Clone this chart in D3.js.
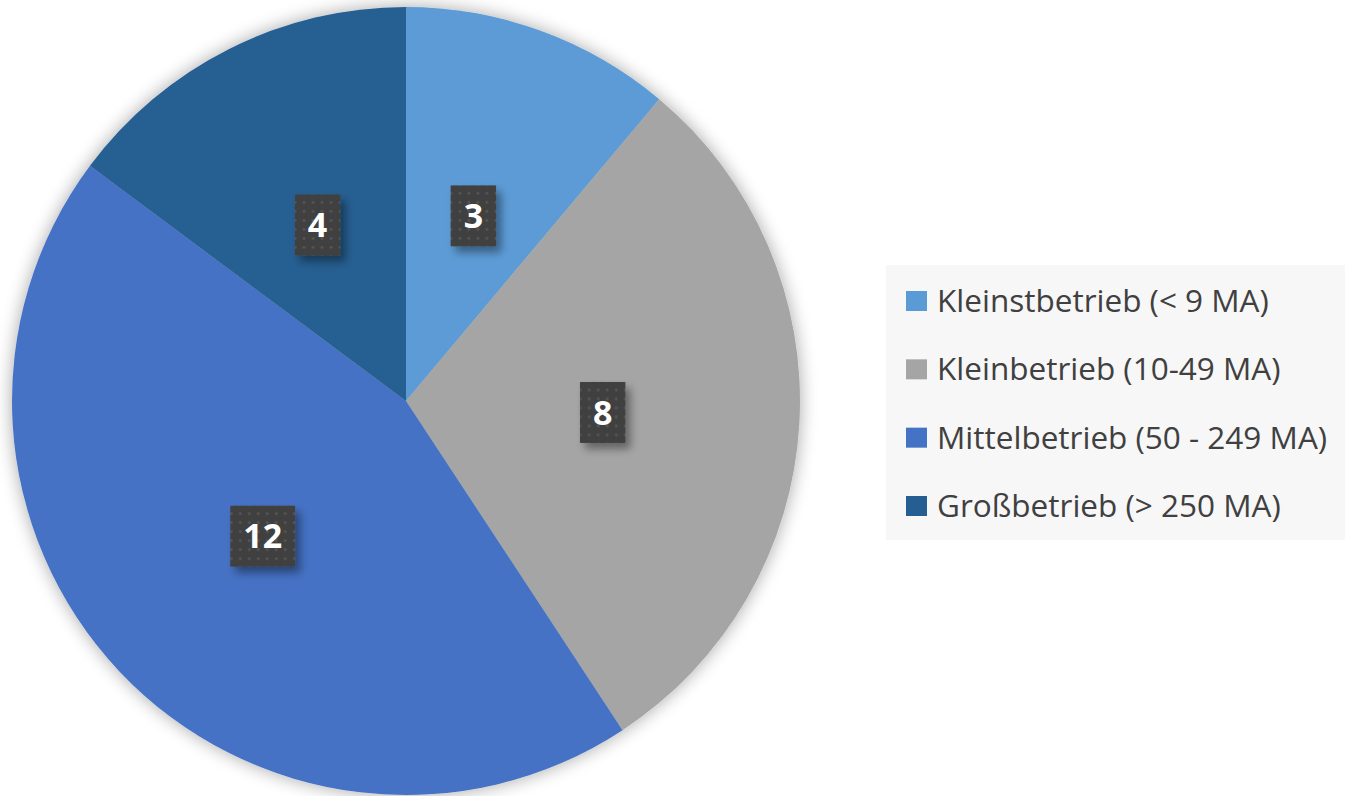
<!DOCTYPE html>
<html><head><meta charset="utf-8">
<script src="https://cdn.jsdelivr.net/npm/d3@7"></script>
<style>body{margin:0;background:#fff;}svg{display:block;}</style>
</head><body>
<svg id="chart" width="1345" height="796"></svg>
<script>
const categories = ["Kleinstbetrieb (< 9 MA)", "Kleinbetrieb (10-49 MA)", "Mittelbetrieb (50 - 249 MA)", "Großbetrieb (> 250 MA)"];
const values = [3, 8, 12, 4];
const colors = ["#5B9BD5", "#A5A5A5", "#4472C4", "#255E91"];

const svg = d3.select("#chart");
const W = 1345, H = 796;
const cx = 406, cy = 401, R = 394;

const defs = svg.append("defs");
const f = defs.append("filter").attr("id","pieShadow").attr("x","-20%").attr("y","-20%").attr("width","140%").attr("height","140%");
f.append("feGaussianBlur").attr("in","SourceAlpha").attr("stdDeviation",9).attr("result","b");
f.append("feOffset").attr("in","b").attr("dx",0).attr("dy",0).attr("result","o");
f.append("feComponentTransfer").attr("in","o").attr("result","s").append("feFuncA").attr("type","linear").attr("slope",0.35);
const m = f.append("feMerge"); m.append("feMergeNode").attr("in","s"); m.append("feMergeNode").attr("in","SourceGraphic");

const f2 = defs.append("filter").attr("id","boxShadow").attr("x","-40%").attr("y","-40%").attr("width","190%").attr("height","190%");
f2.append("feGaussianBlur").attr("in","SourceAlpha").attr("stdDeviation",4).attr("result","b");
f2.append("feOffset").attr("in","b").attr("dx",5).attr("dy",6).attr("result","o");
f2.append("feComponentTransfer").attr("in","o").attr("result","s").append("feFuncA").attr("type","linear").attr("slope",0.4);
const m2 = f2.append("feMerge"); m2.append("feMergeNode").attr("in","s"); m2.append("feMergeNode").attr("in","SourceGraphic");

const pat = defs.append("pattern").attr("id","dots").attr("patternUnits","userSpaceOnUse").attr("width",9).attr("height",9);
pat.append("rect").attr("width",9).attr("height",9).attr("fill","#404040");
pat.append("circle").attr("cx",4.5).attr("cy",4.5).attr("r",1.4).attr("fill","#555555");

const pie = d3.pie().sort(null).value(d => d);
const arcs = pie(values);
const arc = d3.arc().innerRadius(0).outerRadius(R);
const labelArc = d3.arc().innerRadius(R*0.5).outerRadius(R*0.5);

const g = svg.append("g").attr("transform",`translate(${cx},${cy})`);
g.append("g").attr("filter","url(#pieShadow)")
  .selectAll("path").data(arcs).join("path")
  .attr("d", arc).attr("fill",(d,i)=>colors[i]);

const lg = g.append("g");
arcs.forEach((d,i) => {
  const [x,y] = labelArc.centroid(d);
  const grp = lg.append("g").attr("transform",`translate(${x},${y})`);
  const rect = grp.append("rect").attr("fill","url(#dots)").attr("filter","url(#boxShadow)");
  const t = grp.append("text").text(values[i])
    .attr("text-anchor","middle").attr("dy","0.36em")
    .attr("font-family","'Open Sans', sans-serif").attr("font-weight","bold")
    .attr("font-size",34).attr("fill","#ffffff");
  const bw = t.node().getComputedTextLength() + 26, bh = 61;
  rect.attr("x",-bw/2).attr("y",-bh/2).attr("width",bw).attr("height",bh);
});

// legend
const leg = svg.append("g");
leg.append("rect").attr("x",886).attr("y",265).attr("width",W-886).attr("height",275).attr("fill","#f7f7f7");
const rowY = d3.scalePoint().domain(categories).range([301, 506]);
categories.forEach((c,i) => {
  const y = rowY(c);
  leg.append("rect").attr("x",906).attr("y",y-10).attr("width",21).attr("height",20).attr("fill",colors[i]);
  leg.append("text").attr("x",937).attr("y",y).attr("dy","0.35em")
    .attr("font-family","'Open Sans', sans-serif").attr("font-size",31.5).attr("fill","#404040").text(c);
});
</script>
</body></html>
